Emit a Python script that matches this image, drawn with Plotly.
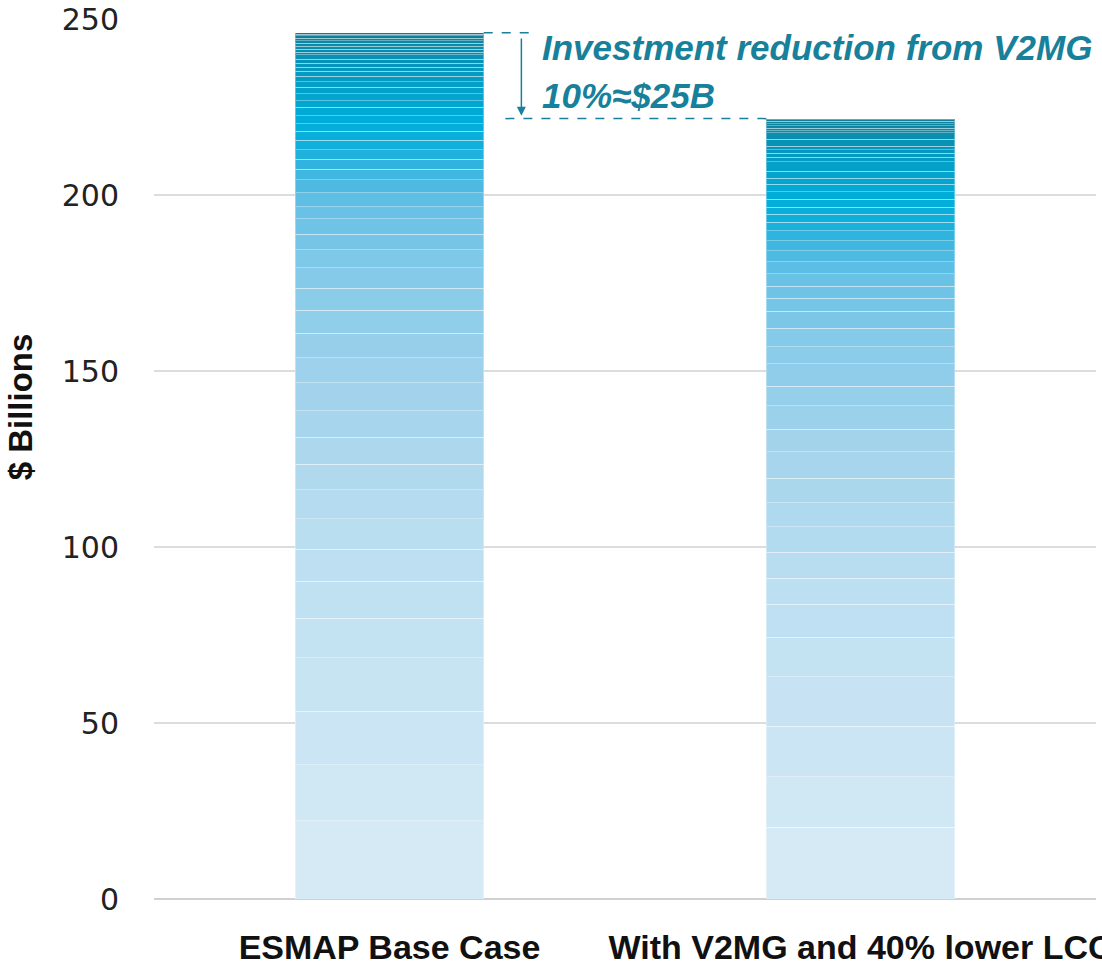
import plotly.graph_objects as go
from plotly.colors import sample_colorscale

categories = ["ESMAP Base Case", "With V2MG and 40% lower LCC"]

# Segment contributions ($ billions), bottom to top
base_case = [22.2, 15.9, 15.3, 15.1, 11.3, 10.5, 9.1, 8.6, 8.2, 7.3, 7.7, 7.5, 8.0, 7.0, 7.0,
             6.6, 6.2, 5.8, 5.2, 4.3, 4.4, 3.5, 3.9, 3.7, 3.0, 2.9, 2.6, 2.8, 2.5, 2.2, 2.2,
             2.4, 1.9, 1.9, 1.9, 1.6, 1.6, 1.4, 1.1, 1.1, 1.1, 1.3, 0.7, 0.9, 0.9, 0.8, 0.7,
             0.7, 0.7, 0.5, 0.4]
v2mg_case = [20.4, 14.3, 14.4, 14.0, 11.3, 9.4, 7.3, 7.4, 7.3, 6.8, 6.9, 7.5, 6.5, 6.6, 5.6,
             6.3, 4.9, 5.2, 4.9, 3.6, 3.5, 3.6, 3.4, 3.1, 2.8, 2.8, 2.4, 2.3, 2.0, 2.3, 2.1,
             2.2, 1.6, 2.1, 2.6, 1.3, 1.1, 1.0, 1.1, 1.9, 1.9, 0.5, 0.7, 0.8, 0.6, 0.7, 0.4, 0.3]
y_ticks = [0, 50, 100, 150, 200, 250]
note_line1 = "Investment reduction from V2MG"
note_line2 = "10%\u2248$25B"

scale = [
    [0.0, "#d9ebf6"], [0.40, "#bcdff1"], [0.60, "#a0d2eb"], [0.72, "#85cae9"],
    [0.80, "#66c0e5"], [0.84, "#3cb6e0"], [0.87, "#10afdc"], [0.90, "#00acd9"],
    [0.93, "#03a3cc"], [0.96, "#0697bd"], [0.985, "#0a8aab"], [1.0, "#137b92"],
]

fig = go.Figure()
for cat, segs in zip(categories, [base_case, v2mg_case]):
    total = sum(segs)
    cum = 0.0
    for v in segs:
        mid = (cum + v / 2) / total
        cum += v
        col = sample_colorscale(scale, [mid])[0]
        fig.add_trace(go.Bar(
            x=[cat], y=[v], marker=dict(color=col, line=dict(color="rgba(255,255,255,0.35)", width=1)),
            showlegend=False, hoverinfo="skip"))

top1 = sum(base_case)
top2 = sum(v2mg_case)
teal = "#17809a"

fig.update_layout(
    barmode="stack", bargap=0.6,
    width=1102, height=966,
    margin=dict(l=154, r=6, t=19, b=67, autoexpand=False),
    plot_bgcolor="white", paper_bgcolor="white",
    font=dict(family="Liberation Sans", color="#1a1a1a"),
    xaxis=dict(range=[-0.5, 1.5], showgrid=False, showline=False, zeroline=False,
               tickfont=dict(family="Liberation Sans", size=34, color="#111"),
               ticklabelstandoff=25, ticks="", automargin=False),
    yaxis=dict(range=[0, 250], tickvals=y_ticks, showgrid=True, gridcolor="#dcdcdc",
               gridwidth=1.5, zeroline=True, zerolinecolor="#d0d0d0", zerolinewidth=2,
               showline=False, ticks="", automargin=False,
               tickfont=dict(family="DejaVu Sans", size=30, color="#222"),
               ticklabelstandoff=34),
)

# Bold labels via tick text
fig.update_xaxes(tickvals=categories, ticktext=[f"<b>{c}</b>" for c in categories])

# Y-axis title
fig.add_annotation(xref="paper", yref="paper", x=-0.142, y=0.559, xanchor="center", yanchor="middle",
                   text="<b>$ Billions</b>", textangle=-90, showarrow=False,
                   font=dict(family="Liberation Sans", size=33, color="#111"))

# Dashed reference lines
fig.add_shape(type="line", xref="x", yref="y", x0=0.2, x1=0.30, y0=top1, y1=top1,
              line=dict(color=teal, width=1.5, dash="dash"))
fig.add_shape(type="line", xref="x", yref="y", x0=0.246, x1=0.8, y0=top2, y1=top2,
              line=dict(color=teal, width=1.5, dash="dash"))
# Arrow
fig.add_annotation(xref="x", yref="y", axref="x", ayref="y", x=0.28, y=top2 + 0.8,
                   ax=0.28, ay=top1 - 1.2, showarrow=True, arrowhead=2, arrowsize=1.2,
                   arrowwidth=1.5, arrowcolor=teal, text="")
# Note text
fig.add_annotation(xref="x", yref="y", x=0.32, y=241.8, xanchor="left", yanchor="middle",
                   text=f"<b><i>{note_line1}</i></b>", showarrow=False,
                   font=dict(family="Liberation Sans", size=35, color=teal))
fig.add_annotation(xref="x", yref="y", x=0.32, y=228.4, xanchor="left", yanchor="middle",
                   text=f"<b><i>{note_line2}</i></b>", showarrow=False,
                   font=dict(family="Liberation Sans", size=35, color=teal))

fig.write_html("out.html", config={"displayModeBar": False},
               post_script="document.body.style.margin='0';")
